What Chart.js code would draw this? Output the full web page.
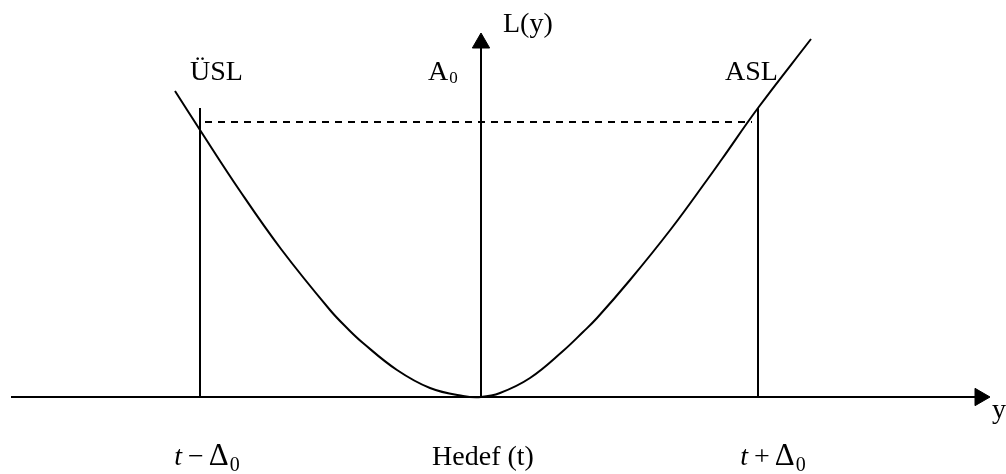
<!DOCTYPE html>
<html lang="tr">
<head>
    <meta charset="UTF-8">
    <title>Kayıp fonksiyonu</title>
    <script src="https://cdn.jsdelivr.net/npm/chart.js"></script>
    <style>
        body { margin: 0; background: #fff; }
        canvas { display: block; }
    </style>
</head>
<body>
<canvas id="lossChart" width="1006" height="474"></canvas>

<script>
    // loss curve L(y) (x: distance from target, y: loss)
    const curveX = [-306, -281, -241, -200, -151, -133, -118, -84, -51, -18, 0, 19, 49, 82, 102, 116, 149, 190, 226, 241, 277, 330];
    const curveY = [306, 267, 206, 148, 87, 68, 54, 27, 9, 1, 0, 4, 19, 46, 65, 79, 117, 168, 217, 238, 289, 358];

    // spec limits (t - Δ0, t + Δ0) and target t
    const limitsX = [-281, 277];
    const targetX = 0;
    const limitTop = 289;     // where the two limit lines stop
    const lossA0 = 275;       // dashed A0 level
    const dashRange = [-276, 271];

    // axes
    const axisX = [-473, 494];
    const axisTopY = 349;

    // texts
    const topLabels = ['ÜSL', 'A', 'ASL'];
    const bottomLabels = ['Hedef (t)'];
    const axisNames = ['L(y)', 'y'];

    const serif = '"Liberation Serif", "Times New Roman", serif';
    // chart.js keeps the arrow heads inside the area (radius 10 + border 1)
    const pad = 11;

    function line(points, opts) {
        return Object.assign({
            data: points,
            showLine: true,
            borderColor: '#000',
            borderWidth: 2,
            pointRadius: 0,
            fill: false
        }, opts || {});
    }

    const datasets = [];
    // horizontal axis
    datasets.push(line([{x: axisX[0], y: 0}, {x: axisX[1], y: 0}]));
    // vertical axis
    datasets.push(line([{x: targetX, y: 0}, {x: targetX, y: axisTopY}]));
    // limit lines
    limitsX.forEach(function (lx) {
        datasets.push(line([{x: lx, y: 0}, {x: lx, y: limitTop}]));
    });
    // dashed A0 level
    datasets.push(line([{x: dashRange[0], y: lossA0}, {x: dashRange[1], y: lossA0}], {borderDash: [7, 6]}));
    // the curve
    datasets.push(line(curveX.map(function (v, i) { return {x: v, y: curveY[i]}; }), {
        tension: 0.4
    }));
    // arrow heads
    datasets.push({
        data: [{x: targetX, y: 354}],
        pointStyle: 'triangle', pointRadius: 10, rotation: 0,
        pointBackgroundColor: '#000', pointBorderColor: '#000', pointBorderWidth: 1
    });
    datasets.push({
        data: [{x: 499, y: 0}],
        pointStyle: 'triangle', pointRadius: 10, rotation: 90,
        pointBackgroundColor: '#000', pointBorderColor: '#000', pointBorderWidth: 1
    });

    // text pieces drawn one after another (for the subscripts)
    function runsWidth(ctx, runs) {
        let w = 0;
        runs.forEach(function (r) { ctx.font = r.font; w += ctx.measureText(r.text).width + (r.gap || 0); });
        return w;
    }
    function drawRuns(ctx, runs, x0, base) {
        let cx = x0;
        runs.forEach(function (r) {
            ctx.font = r.font;
            ctx.fillText(r.text, cx, base + (r.dy || 0));
            cx += ctx.measureText(r.text).width + (r.gap || 0);
        });
    }

    const textPlugin = {
        id: 'diagramText',
        afterDatasetsDraw(chart) {
            const ctx = chart.ctx;
            const sx = chart.scales.x, sy = chart.scales.y;
            const px = function (v) { return sx.getPixelForValue(v); };
            const py = function (v) { return sy.getPixelForValue(v); };
            const f28 = '28px ' + serif;
            const fi28 = 'italic 28px ' + serif;
            const fD = '31px ' + serif;
            const fsub = '17px ' + serif;
            const fsub2 = '20px ' + serif;

            ctx.save();
            ctx.fillStyle = '#000';
            ctx.textAlign = 'left';
            ctx.textBaseline = 'alphabetic';

            // top labels
            const topBase = py(317);
            drawRuns(ctx, [{text: topLabels[0], font: f28}], px(limitsX[0]) - 10, topBase);
            drawRuns(ctx, [{text: topLabels[1], font: f28, gap: 1}, {text: '0', font: fsub, dy: 3}], px(targetX) - 53, topBase);
            drawRuns(ctx, [{text: topLabels[2], font: f28}], px(limitsX[1]) - 33, topBase);

            // axis names
            drawRuns(ctx, [{text: axisNames[0], font: f28}], px(targetX) + 22, py(365));
            drawRuns(ctx, [{text: axisNames[1], font: f28}], px(axisX[1]) + 17, py(-21));

            // bottom labels (centred)
            const botBase = py(-68);
            const centres = [px(limitsX[0]) + 7, px(targetX) + 2, px(limitsX[1]) + 15];
            const parts = [
                [{text: 't', font: fi28, gap: 6}, {text: '−', font: f28, gap: 5}, {text: 'Δ', font: fD, gap: 1}, {text: '0', font: fsub2, dy: 6}],
                [{text: bottomLabels[0], font: f28}],
                [{text: 't', font: fi28, gap: 6}, {text: '+', font: f28, gap: 5}, {text: 'Δ', font: fD, gap: 1}, {text: '0', font: fsub2, dy: 6}]
            ];
            parts.forEach(function (runs, i) {
                const w = runsWidth(ctx, runs);
                drawRuns(ctx, runs, centres[i] - w / 2, botBase);
            });
            ctx.restore();
        }
    };

    new Chart(document.getElementById('lossChart'), {
        type: 'scatter',
        data: {datasets: datasets},
        options: {
            responsive: false,
            animation: false,
            devicePixelRatio: 1,
            events: [],
            layout: {padding: 0},
            plugins: {legend: {display: false}, tooltip: {enabled: false}},
            scales: {
                x: {type: 'linear', min: -481 + pad, max: 525 - pad, display: false},
                y: {type: 'linear', min: -77 + pad, max: 397 - pad, display: false}
            }
        },
        plugins: [textPlugin]
    });
</script>
</body>
</html>
